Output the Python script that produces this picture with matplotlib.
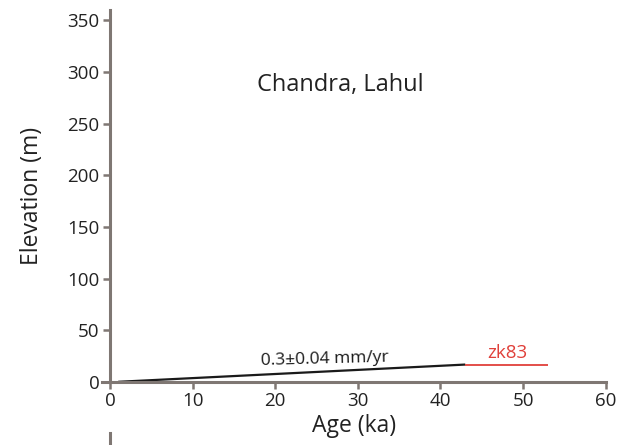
import matplotlib.pyplot as plt
import matplotlib.lines as mlines

plt.rcParams['font.family'] = ['Open Sans', 'DejaVu Sans']

# trend line (rate fit) and zk83 sample age span
fit_age = [1, 43]
fit_elev = [0, 16.7]
zk83_age = [43, 53]
zk83_elev = [16.7, 16.7]

xticks = [0, 10, 20, 30, 40, 50, 60]
yticks = [0, 50, 100, 150, 200, 250, 300, 350]

axis_col = '#7f7773'

fig = plt.figure(figsize=(6.2, 4.45), dpi=100)
ax = fig.add_axes([0.164, 0.142, 0.813, 0.8355])

ax.plot(fit_age, fit_elev, color='#1a1a1a', lw=1.6, solid_capstyle='butt')
ax.plot(zk83_age, zk83_elev, color='#e0403a', lw=1.3, solid_capstyle='butt')

ax.text(26, 21.5, '0.3±0.04 mm/yr', fontsize=12.5, ha='center', va='center',
        rotation=1.5, color='#1a1a1a')
ax.text(48.1, 28, 'zk83', fontsize=13.5, ha='center', va='center', color='#e0403a')
ax.text(27.9, 287, 'Chandra, Lahul', fontsize=17, ha='center', va='center',
        color='#222222')

ax.set_xlim(-1, 60)
ax.set_ylim(0, 360)
ax.set_xticks(xticks)
ax.set_yticks(yticks)

for s in ['top', 'right']:
    ax.spines[s].set_visible(False)
ax.spines['left'].set_position(('data', 0))
for s in ['left', 'bottom']:
    ax.spines[s].set_color(axis_col)
    ax.spines[s].set_linewidth(2.2)
ax.tick_params(direction='out', length=5, width=1.8, color=axis_col,
               labelsize=13.5, labelcolor='#222222', pad=2.5)

ax.set_xlabel('Age (ka)', fontsize=16.5, color='#222222', labelpad=3)
ax.set_ylabel('Elevation (m)', fontsize=16.5, color='#222222', labelpad=17)

# piece of the next panel's axis at the bottom edge
fig.add_artist(mlines.Line2D([110/620, 110/620], [0, 12/445], color=axis_col, lw=2.2))

fig.savefig('out.png', dpi=100)
